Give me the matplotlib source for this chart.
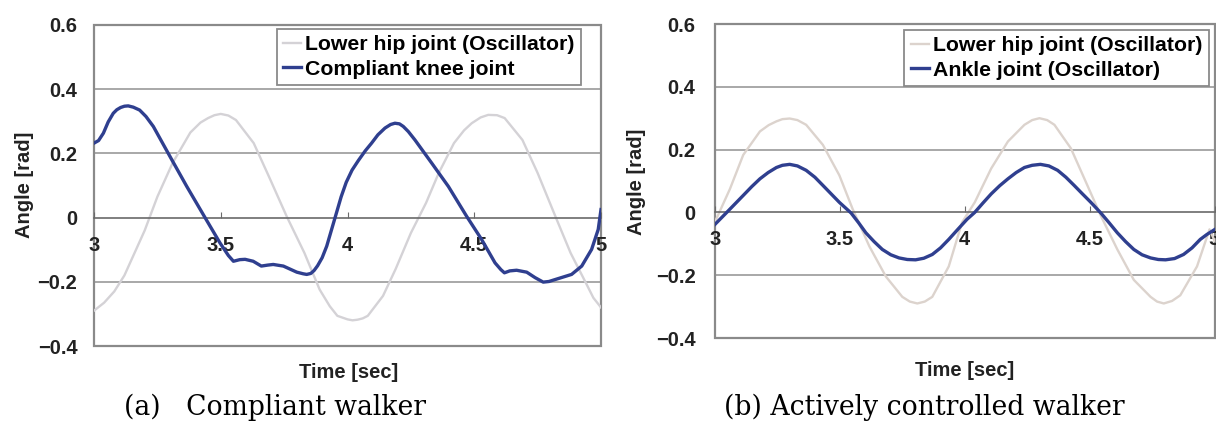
import matplotlib
matplotlib.use("Agg")
import matplotlib.pyplot as plt
from matplotlib.patches import Rectangle

# ---------------- data ----------------
xticks = [3, 3.5, 4, 4.5, 5]
xtick_labels = ["3", "3.5", "4", "4.5", "5"]
yticks = [-0.4, -0.2, 0, 0.2, 0.4, 0.6]
ytick_labels = ["\u22120.4", "\u22120.2", "0", "0.2", "0.4", "0.6"]

# (a) compliant walker
t_hip_a = [3.00, 3.04, 3.08, 3.12, 3.16, 3.20, 3.25, 3.31, 3.38, 3.42, 3.45, 3.475, 3.50, 3.53, 3.56,
           3.63, 3.69, 3.76, 3.83, 3.89, 3.93, 3.96, 4.00, 4.02, 4.04, 4.06, 4.08, 4.14, 4.19, 4.25,
           4.31, 4.36, 4.42, 4.46, 4.49, 4.525, 4.555, 4.59, 4.62, 4.69, 4.75, 4.82, 4.88, 4.94, 4.97, 5.00]
v_hip_a = [-0.29, -0.265, -0.23, -0.18, -0.11, -0.04, 0.065, 0.17, 0.265, 0.296, 0.31, 0.319, 0.323, 0.318, 0.304,
           0.232, 0.128, 0.004, -0.11, -0.224, -0.276, -0.306, -0.317, -0.32, -0.318, -0.314, -0.306, -0.244, -0.16, -0.048,
           0.046, 0.139, 0.232, 0.272, 0.294, 0.312, 0.32, 0.319, 0.31, 0.242, 0.139, 0.004, -0.11, -0.203, -0.25, -0.28]

t_knee_a = [3.000, 3.018, 3.037, 3.056, 3.076, 3.09, 3.105, 3.12, 3.135, 3.155, 3.18, 3.205, 3.234, 3.30, 3.366, 3.438,
            3.497, 3.53, 3.55, 3.575, 3.596, 3.628, 3.66, 3.685, 3.707, 3.747, 3.80, 3.825, 3.839, 3.855, 3.868, 3.882,
            3.90, 3.918, 3.951, 3.975, 3.995, 4.018, 4.043, 4.07, 4.095, 4.12, 4.148, 4.17, 4.187, 4.205, 4.22, 4.24,
            4.266, 4.332, 4.398, 4.47, 4.529, 4.582, 4.605, 4.619, 4.64, 4.667, 4.707, 4.74, 4.772, 4.795, 4.819, 4.884,
            4.924, 4.963, 4.989, 5.0]
v_knee_a = [0.232, 0.24, 0.263, 0.298, 0.325, 0.336, 0.343, 0.347, 0.348, 0.344, 0.335, 0.315, 0.284, 0.19, 0.097, 0.0,
            -0.079, -0.118, -0.136, -0.131, -0.130, -0.136, -0.151, -0.148, -0.146, -0.151, -0.170, -0.175, -0.177, -0.174, -0.165, -0.15,
            -0.125, -0.089, 0.0, 0.065, 0.11, 0.148, 0.178, 0.208, 0.232, 0.258, 0.279, 0.29, 0.294, 0.292, 0.284, 0.268,
            0.242, 0.170, 0.097, 0.004, -0.068, -0.141, -0.162, -0.172, -0.166, -0.164, -0.170, -0.187, -0.201, -0.199, -0.193, -0.177,
            -0.151, -0.099, -0.037, 0.025]

# (b) actively controlled walker
t_hip_b = [3.00, 3.06, 3.113, 3.18, 3.215, 3.246, 3.27, 3.299, 3.33, 3.365, 3.432, 3.498, 3.551, 3.618, 3.684,
           3.75, 3.78, 3.81, 3.84, 3.87, 3.936, 3.989, 4.04, 4.106, 4.173, 4.239, 4.27, 4.299, 4.33, 4.359, 4.425,
           4.491, 4.545, 4.611, 4.677, 4.744, 4.77, 4.797, 4.83, 4.863, 4.93, 4.98, 5.00]
v_hip_b = [-0.03, 0.075, 0.183, 0.258, 0.278, 0.29, 0.297, 0.299, 0.294, 0.279, 0.215, 0.118, 0.011, -0.108, -0.204,
           -0.269, -0.284, -0.29, -0.284, -0.269, -0.172, -0.032, 0.032, 0.14, 0.226, 0.279, 0.294, 0.30, 0.294, 0.279, 0.204,
           0.086, -0.011, -0.118, -0.215, -0.269, -0.284, -0.29, -0.282, -0.264, -0.172, -0.054, -0.09]

t_ankle_b = [3.0, 3.047, 3.08, 3.113, 3.147, 3.18, 3.213, 3.246, 3.27, 3.299, 3.33, 3.365, 3.40, 3.432, 3.465, 3.498,
             3.545, 3.575, 3.604, 3.637, 3.67, 3.704, 3.737, 3.77, 3.803, 3.836, 3.87, 3.903, 3.936, 3.97, 4.009,
             4.04, 4.073, 4.106, 4.14, 4.173, 4.206, 4.239, 4.27, 4.303, 4.337, 4.372, 4.405, 4.438, 4.47, 4.505,
             4.545, 4.578, 4.611, 4.644, 4.677, 4.71, 4.744, 4.775, 4.804, 4.84, 4.876, 4.91, 4.943, 4.97, 5.0]
v_ankle_b = [-0.038, 0.0, 0.027, 0.054, 0.082, 0.107, 0.127, 0.143, 0.150, 0.153, 0.148, 0.134, 0.112, 0.086, 0.059, 0.032,
             -0.002, -0.033, -0.065, -0.093, -0.118, -0.135, -0.145, -0.150, -0.151, -0.146, -0.134, -0.113, -0.086, -0.056, -0.022,
             0.0, 0.03, 0.059, 0.085, 0.107, 0.127, 0.143, 0.150, 0.153, 0.148, 0.134, 0.112, 0.086, 0.06, 0.032,
             -0.002, -0.033, -0.065, -0.093, -0.118, -0.135, -0.145, -0.150, -0.151, -0.147, -0.134, -0.113, -0.086, -0.07, -0.055]

legend_a = ["Lower hip joint (Oscillator)", "Compliant knee joint"]
legend_b = ["Lower hip joint (Oscillator)", "Ankle joint (Oscillator)"]
captions = ["(a)   Compliant walker", "(b) Actively controlled walker"]
xlabel = "Time [sec]"
ylabel = "Angle [rad]"

# ---------------- style ----------------
W, H = 1216, 422
fig = plt.figure(figsize=(W / 100, H / 100), dpi=100)
sans = ["Liberation Sans", "DejaVu Sans"]
fs = 14.5
blue = "#2f3f8f"
grid_c = "#a8a8a8"
frame_c = "#8a8a8a"


def px_axes(x0, y0, x1, y1):
    return fig.add_axes([x0 / W, 1 - y1 / H, (x1 - x0) / W, (y1 - y0) / H])


def setup(ax, tick_pad_y):
    ax.set_xlim(3, 5)
    ax.set_ylim(-0.4, 0.6)
    for s in ["top", "left", "right"]:
        ax.spines[s].set_visible(False)
    ax.spines["bottom"].set_position(("data", 0))
    ax.spines["bottom"].set_color("#6a6a6a")
    ax.spines["bottom"].set_linewidth(1.2)
    ax.add_patch(Rectangle((0, 0), 1, 1, transform=ax.transAxes, fill=False,
                           edgecolor=frame_c, linewidth=1.6, clip_on=False, zorder=1))
    ax.set_xticks(xticks)
    ax.set_xticklabels(xtick_labels)
    ax.set_yticks(yticks)
    ax.set_yticklabels(ytick_labels)
    ax.tick_params(axis="x", direction="in", length=4, color="#6a6a6a", pad=13,
                   labelsize=fs, top=False)
    ax.tick_params(axis="y", length=0, pad=tick_pad_y, labelsize=fs)
    for lab in ax.get_xticklabels() + ax.get_yticklabels():
        lab.set_family(sans)
        lab.set_fontweight("bold")
        lab.set_color("#222222")
    for yv in yticks:
        if yv not in (0, -0.4, 0.6):
            ax.axhline(yv, color=grid_c, linewidth=1.4, zorder=0)


leg_fs = 15.3

# ---- (a)
axa = px_axes(94, 25, 601, 346)
setup(axa, 12)
la1, = axa.plot(t_hip_a, v_hip_a, color="#d4d2d6", linewidth=1.7, zorder=2)
la2, = axa.plot(t_knee_a, v_knee_a, color=blue, linewidth=2.4, zorder=3, solid_joinstyle="round")
leg = axa.legend([la1, la2], legend_a, loc="upper right", bbox_to_anchor=(0.9606, 0.9875),
                 borderaxespad=0, fancybox=False, framealpha=1, edgecolor=frame_c,
                 handlelength=0.85, handletextpad=0.2, borderpad=0.3, labelspacing=0.25,
                 prop={"family": sans, "weight": "bold", "size": leg_fs})
leg.get_frame().set_linewidth(1.3)

# ---- (b)
axb = px_axes(715, 24, 1214.5, 338)
setup(axb, 14)
lb1, = axb.plot(t_hip_b, v_hip_b, color="#dcd3cd", linewidth=1.7, zorder=2)
lb2, = axb.plot(t_ankle_b, v_ankle_b, color=blue, linewidth=2.4, zorder=3, solid_joinstyle="round")
leg = axb.legend([lb1, lb2], legend_b, loc="upper right", bbox_to_anchor=(0.9884, 0.981),
                 borderaxespad=0, fancybox=False, framealpha=1, edgecolor=frame_c,
                 handlelength=0.85, handletextpad=0.2, borderpad=0.3, labelspacing=0.25,
                 prop={"family": sans, "weight": "bold", "size": leg_fs})
leg.get_frame().set_linewidth(1.3)

# axis titles
for (xc, yc), txt in [((349, 372), xlabel), ((965, 370), xlabel)]:
    fig.text(xc / W, 1 - yc / H, txt, ha="center", va="center", family=sans,
             fontweight="bold", fontsize=fs, color="#222222")
for (xc, yc), txt in [((25, 185), ylabel), ((637, 182), ylabel)]:
    fig.text(xc / W, 1 - yc / H, txt, ha="center", va="center", rotation=90, family=sans,
             fontweight="bold", fontsize=fs, color="#222222")

# captions
fig.text(124 / W, 1 - 407 / H, captions[0], ha="left", va="center",
         family=["DejaVu Serif"], fontsize=19.2, color="black")
fig.text(724 / W, 1 - 407 / H, captions[1], ha="left", va="center",
         family=["DejaVu Serif"], fontsize=19.2, color="black")

fig.savefig("out.png", dpi=100)
